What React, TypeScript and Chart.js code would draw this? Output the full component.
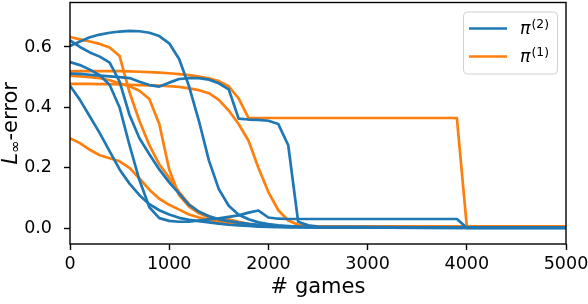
import React, { useEffect, useRef } from "react";
import { Chart, registerables } from "chart.js";

Chart.register(...registerables);

// x positions (# games)
const games = [
  0, 100, 200, 300, 400, 500, 600, 700, 800, 900, 1000, 1100, 1200, 1300, 1400,
  1500, 1600, 1700, 1800, 1900, 2000, 2100, 2200, 2300, 2400, 2500, 3900, 4000, 5000,
];

// pi^(2) runs (blue)
const blueRun1 = [0.603, 0.618, 0.632, 0.641, 0.647, 0.651, 0.653, 0.652, 0.647, 0.636, 0.612, 0.56, 0.47, 0.355, 0.225, 0.13, 0.075, 0.045, 0.03, 0.02, 0.014, 0.01, 0.008, 0.006, 0.005, 0.004, 0.003, 0.003, 0.003];
const blueRun2 = [0.622, 0.6, 0.582, 0.568, 0.548, 0.485, 0.375, 0.298, 0.245, 0.195, 0.152, 0.115, 0.078, 0.055, 0.04, 0.03, 0.024, 0.019, 0.015, 0.012, 0.01, 0.008, 0.006, 0.005, 0.004, 0.003, 0.002, 0.002, 0.002];
const blueRun3 = [0.55, 0.54, 0.525, 0.507, 0.474, 0.4, 0.275, 0.16, 0.07, 0.034, 0.025, 0.022, 0.022, 0.026, 0.03, 0.033, 0.038, 0.043, 0.052, 0.059, 0.036, 0.032, 0.031, 0.031, 0.031, 0.031, 0.031, 0.002, 0.002];
const blueRun4 = [0.512, 0.511, 0.508, 0.505, 0.503, 0.5, 0.497, 0.485, 0.474, 0.469, 0.482, 0.494, 0.497, 0.497, 0.492, 0.48, 0.46, 0.363, 0.36, 0.359, 0.356, 0.345, 0.275, 0.022, 0.01, 0.006, 0.003, 0.003, 0.003];
const blueRun5 = [0.472, 0.425, 0.37, 0.315, 0.255, 0.195, 0.148, 0.11, 0.08, 0.06, 0.046, 0.035, 0.028, 0.024, 0.02, 0.016, 0.012, 0.01, 0.008, 0.006, 0.005, 0.004, 0.003, 0.003, 0.003, 0.003, 0.002, 0.002, 0.002];

// pi^(1) runs (orange)
const orangeRun1 = [0.633, 0.625, 0.618, 0.61, 0.598, 0.57, 0.45, 0.355, 0.275, 0.212, 0.167, 0.12, 0.08, 0.055, 0.04, 0.03, 0.024, 0.019, 0.013, 0.009, 0.007, 0.007, 0.007, 0.007, 0.007, 0.007, 0.007, 0.007, 0.007];
const orangeRun2 = [0.519, 0.52, 0.52, 0.52, 0.52, 0.52, 0.519, 0.518, 0.517, 0.515, 0.513, 0.51, 0.507, 0.502, 0.496, 0.487, 0.47, 0.43, 0.365, 0.365, 0.365, 0.365, 0.365, 0.365, 0.365, 0.365, 0.365, 0.007, 0.007];
const orangeRun3 = [0.505, 0.503, 0.5, 0.497, 0.49, 0.48, 0.47, 0.455, 0.428, 0.345, 0.195, 0.11, 0.072, 0.05, 0.036, 0.028, 0.03, 0.022, 0.015, 0.009, 0.007, 0.007, 0.007, 0.007, 0.007, 0.007, 0.007, 0.007, 0.007];
const orangeRun4 = [0.478, 0.478, 0.478, 0.477, 0.477, 0.476, 0.475, 0.474, 0.473, 0.472, 0.47, 0.468, 0.463, 0.457, 0.447, 0.425, 0.39, 0.345, 0.29, 0.2, 0.12, 0.06, 0.026, 0.012, 0.008, 0.007, 0.007, 0.007, 0.007];
const orangeRun5 = [0.298, 0.282, 0.26, 0.242, 0.232, 0.222, 0.2, 0.165, 0.128, 0.098, 0.078, 0.062, 0.046, 0.036, 0.028, 0.022, 0.017, 0.013, 0.01, 0.008, 0.007, 0.007, 0.007, 0.007, 0.007, 0.007, 0.007, 0.007, 0.007];

const blueRuns = [blueRun1, blueRun2, blueRun3, blueRun4, blueRun5];
const orangeRuns = [orangeRun1, orangeRun2, orangeRun3, orangeRun4, orangeRun5];

const xTicks = [0, 1000, 2000, 3000, 4000, 5000];
const yTicks = [0, 0.2, 0.4, 0.6];
const legendSups = ["(2)", "(1)"];

const BLUE = "#1f77b4";
const ORANGE = "#ff7f0e";
const FONT = "'DejaVu Sans', sans-serif";

const decorPlugin = {
  id: "decor",
  afterDraw(chart: any) {
    const { ctx, chartArea: a } = chart;
    ctx.save();
    // frame
    ctx.strokeStyle = "#000";
    ctx.lineWidth = 1.4;
    ctx.strokeRect(a.left, a.top, a.right - a.left, a.bottom - a.top);

    ctx.fillStyle = "#000";
    ctx.textBaseline = "alphabetic";
    // x title
    ctx.font = `21px ${FONT}`;
    ctx.textAlign = "center";
    ctx.fillText("# games", (a.left + a.right) / 2, 293);

    // y title: L_inf-error
    ctx.save();
    ctx.translate(16.5, (a.top + a.bottom) / 2);
    ctx.rotate(-Math.PI / 2);
    ctx.textAlign = "left";
    const segs = [
      { t: "L", f: `italic 21px ${FONT}`, dy: 0 },
      { t: "∞", f: `14.7px ${FONT}`, dy: 3.5 },
      { t: "-error", f: `21px ${FONT}`, dy: 0 },
    ];
    let total = 0;
    const widths = segs.map((s) => {
      ctx.font = s.f;
      const w = ctx.measureText(s.t).width;
      total += w;
      return w;
    });
    let cx = -total / 2;
    segs.forEach((s, i) => {
      ctx.font = s.f;
      ctx.fillText(s.t, cx, s.dy);
      cx += widths[i];
    });
    ctx.restore();

    // legend
    const bx = a.right - 103;
    const by = a.top + 9;
    const bw = 94;
    const bh = 62;
    ctx.beginPath();
    ctx.roundRect(bx + 0.5, by + 0.5, bw, bh, 4);
    ctx.fillStyle = "rgba(255,255,255,0.8)";
    ctx.fill();
    ctx.strokeStyle = "#d0d0d0";
    ctx.lineWidth = 1;
    ctx.stroke();
    [BLUE, ORANGE].forEach((c, i) => {
      const ly = by + 17 + i * 28;
      ctx.beginPath();
      ctx.strokeStyle = c;
      ctx.lineWidth = 2.6;
      ctx.moveTo(bx + 6, ly);
      ctx.lineTo(bx + 44, ly);
      ctx.stroke();
      ctx.fillStyle = "#000";
      ctx.textAlign = "left";
      ctx.font = `italic 17.5px ${FONT}`;
      const tx = bx + 57;
      ctx.fillText("π", tx, ly + 5.5);
      const pw = ctx.measureText("π").width;
      ctx.font = `12.3px ${FONT}`;
      ctx.fillText(legendSups[i], tx + pw + 1, ly - 1);
    });
    ctx.restore();
  },
};

export default function App() {
  const ref = useRef<HTMLCanvasElement | null>(null);

  useEffect(() => {
    document.body.style.margin = "0";
    const canvas = ref.current;
    if (!canvas) return;
    const mk = (runs: number[][], color: string, tag: string) =>
      runs.map((run, i) => ({
        label: `${tag}-${i}`,
        data: run.map((v, j) => ({ x: games[j], y: v })),
        borderColor: color,
        backgroundColor: color,
        borderWidth: 2.7,
        pointRadius: 0,
        tension: 0,
        fill: false,
        borderJoinStyle: "round" as const,
      }));
    const chart = new Chart(canvas, {
      type: "line",
      data: { datasets: [...mk(blueRuns, BLUE, "pi2"), ...mk(orangeRuns, ORANGE, "pi1")] },
      options: {
        animation: false,
        responsive: false,
        maintainAspectRatio: false,
        devicePixelRatio: 1,
        layout: { padding: { top: 2.5, right: 22, bottom: 0, left: 0 } },
        plugins: { legend: { display: false }, tooltip: { enabled: false } },
        scales: {
          x: {
            type: "linear",
            min: 0,
            max: 5000,
            afterBuildTicks: (s: any) => {
              s.ticks = xTicks.map((v) => ({ value: v }));
            },
            afterFit: (s: any) => {
              s.height = 60;
              s.paddingLeft = 0;
              s.paddingRight = 0;
              s.paddingTop = 0;
              s.paddingBottom = 0;
            },
            ticks: {
              callback: (v: any) => String(v),
              font: { family: FONT, size: 17.5 },
              color: "#000",
              padding: 4,
              maxRotation: 0,
              autoSkip: false,
            },
            grid: {
              display: true,
              drawOnChartArea: false,
              drawTicks: true,
              tickLength: 6,
              tickWidth: 1.4,
              tickColor: "#000",
            },
            border: { display: false },
          },
          y: {
            type: "linear",
            min: -0.0516,
            max: 0.747,
            afterBuildTicks: (s: any) => {
              s.ticks = yTicks.map((v) => ({ value: v }));
            },
            afterFit: (s: any) => {
              s.width = 70;
              s.paddingLeft = 0;
              s.paddingRight = 0;
              s.paddingTop = 0;
              s.paddingBottom = 0;
            },
            ticks: {
              callback: (v: any) => Number(v).toFixed(1),
              font: { family: FONT, size: 17.5 },
              color: "#000",
              padding: 12,
            },
            grid: {
              display: true,
              drawOnChartArea: false,
              drawTicks: true,
              tickLength: 6,
              tickWidth: 1.4,
              tickColor: "#000",
            },
            border: { display: false },
          },
        },
      },
      plugins: [decorPlugin],
    });
    return () => chart.destroy();
  }, []);

  return <canvas ref={ref} width={588} height={304} style={{ display: "block", width: 588, height: 304 }} />;
}
